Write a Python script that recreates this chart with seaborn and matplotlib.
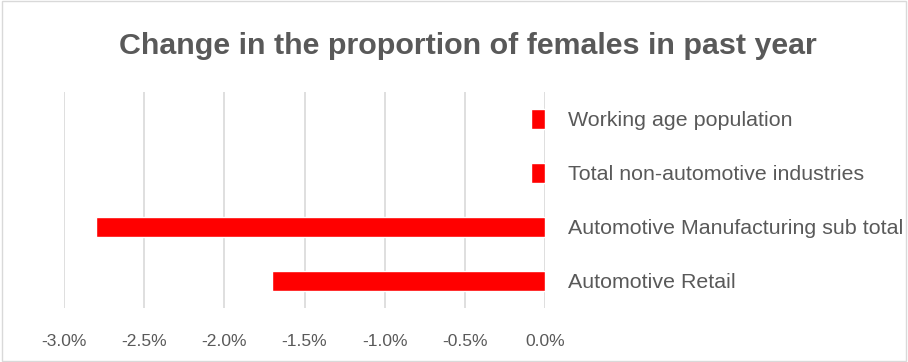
import pandas as pd
import matplotlib.pyplot as plt
import seaborn as sns
from matplotlib.ticker import FuncFormatter

categories = [
    "Working age population",
    "Total non-automotive industries",
    "Automotive Manufacturing sub total",
    "Automotive Retail",
]
change_pct = [-0.09, -0.09, -2.8, -1.7]

df = pd.DataFrame({"category": categories, "change": change_pct})

sns.set_theme(style="white")
plt.rcParams["font.family"] = ["Liberation Sans", "DejaVu Sans"]

fig = plt.figure(figsize=(9.08, 3.62), dpi=100)
ax = fig.add_axes([64 / 908, 1 - 308 / 362, (545 - 64) / 908, (308 - 92) / 362])

sns.barplot(data=df, x="change", y="category", orient="h", color="#ff0000",
            width=0.36, saturation=1, ax=ax)

ax.set_xlim(-3.0, 0.0)
ax.set_xticks([-3.0, -2.5, -2.0, -1.5, -1.0, -0.5, 0.0])
ax.xaxis.set_major_formatter(FuncFormatter(lambda v, _: f"{v:.1f}%"))
ax.grid(axis="x", color="#d9d9d9", linewidth=1.2)
ax.set_axisbelow(True)
for s in ax.spines.values():
    s.set_visible(False)

ax.yaxis.tick_right()
ax.tick_params(axis="y", length=0, pad=16.5, labelsize=15.4, labelcolor="#595959")
ax.tick_params(axis="x", length=0, pad=19, labelsize=12.6, labelcolor="#595959")
ax.set_xlabel("")
ax.set_ylabel("")

fig.text(0.515, 1 - 46 / 362, "Change in the proportion of females in past year",
         ha="center", va="center", fontsize=21.9, fontweight="bold", color="#595959")

fig.patches.append(plt.Rectangle((0.002, 0.003), 0.996, 0.994, transform=fig.transFigure,
                                 fill=False, edgecolor="#d9d9d9", linewidth=1))

fig.savefig("out.png", dpi=100)
